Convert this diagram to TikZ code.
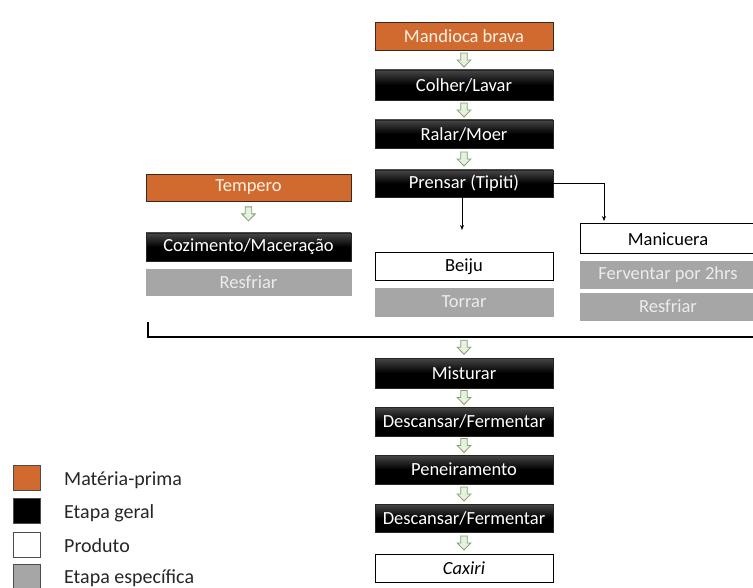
\documentclass[tikz,border=0pt]{standalone}
\usepackage{fontspec}
\setmainfont{Carlito}
\usetikzlibrary{calc,arrows.meta}
\definecolor{orangebox}{RGB}{208,106,46}
\definecolor{graybox}{RGB}{166,166,166}
\definecolor{graytext}{RGB}{236,236,236}
\definecolor{arrline}{RGB}{128,160,110}
\definecolor{arrfill}{RGB}{232,240,224}
\tikzset{
  base/.style={rectangle, minimum height=28pt, inner sep=0pt, font=\fontsize{18.5}{21}\selectfont},
  rawbox/.style={base, fill=orangebox, draw={rgb,255:red,60;green,40;blue,30}, line width=0.8pt, text=white!90!orange},
  genbox/.style={base, top color=black!72, bottom color=black, middle color=black, draw=black!85, line width=0.8pt, text=white},
  prodbox/.style={base, fill=white, draw=black, line width=1pt, text=black},
  specbox/.style={base, fill=graybox, draw=graybox, text=graytext},
  legsq/.style={rectangle, minimum width=27pt, minimum height=25pt, inner sep=0pt, draw=black!70, line width=0.6pt},
  legtxt/.style={anchor=west, inner sep=0pt, font=\fontsize{20}{23}\selectfont, text=black!85},
  thinarr/.style={line width=0.8pt, -{Stealth[length=5pt,width=4pt]}},
  garr/.pic={\draw[arrline, fill=arrfill, line width=0.8pt, line join=miter]
     (-3.2,-7) -- (3.2,-7) -- (3.2,0) -- (6.8,0) -- (0,7) -- (-6.8,0) -- (-3.2,0) -- cycle;}
}
\begin{document}
\begin{tikzpicture}[x=1pt,y=-1pt]
\useasboundingbox (0,0) rectangle (753,588);
% main column
\node[rawbox, minimum width=178pt] (mand) at (464,36) {Mandioca brava};
\node[genbox, minimum width=178pt, minimum height=30pt] (colher) at (464,85) {Colher/Lavar};
\node[genbox, minimum width=178pt] (ralar) at (464,134) {Ralar/Moer};
\node[genbox, minimum width=178pt, minimum height=27pt] (prensar) at (464,183.5) {Prensar (Tipiti)};
% left branch
\node[rawbox, minimum width=205pt, minimum height=27pt] (tempero) at (248.5,187.5) {Tempero};
\node[genbox, minimum width=205pt] (cozi) at (248.5,247) {Cozimento/Maceração};
\node[specbox, minimum width=205pt, minimum height=26pt] (resf1) at (248.5,282) {Resfriar};
% middle branch
\node[prodbox, minimum width=178pt] (beiju) at (464,267) {Beiju};
\node[specbox, minimum width=178pt] (torrar) at (464,302) {Torrar};
% right branch
\node[prodbox, minimum width=176pt, minimum height=30pt] (manic) at (668,239) {Manicuera};
\node[specbox, minimum width=176pt, minimum height=27pt] (ferv) at (668,274.5) {Ferventar por 2hrs};
\node[specbox, minimum width=176pt, minimum height=27pt] (resf2) at (668,306.5) {Resfriar};
% lower column
\node[genbox, minimum width=178pt, minimum height=30pt] (mist) at (464,373) {Misturar};
\node[genbox, minimum width=178pt, minimum height=29pt] (desc1) at (464,421.5) {Descansar/Fermentar};
\node[genbox, minimum width=178pt, minimum height=29pt] (pene) at (464,469.5) {Peneiramento};
\node[genbox, minimum width=178pt] (desc2) at (464,518) {Descansar/Fermentar};
\node[prodbox, minimum width=178pt] (caxiri) at (464,568) {\itshape Caxiri};
% green arrows
\pic at ($(mand.south)!0.5!(colher.north)$) {garr};
\pic at ($(colher.south)!0.5!(ralar.north)$) {garr};
\pic at ($(ralar.south)!0.5!(prensar.north)$) {garr};
\pic at ($(tempero.south)!0.4!(cozi.north)$) {garr};
\pic at ($(mist.south)!0.5!(desc1.north)$) {garr};
\pic at ($(desc1.south)!0.5!(pene.north)$) {garr};
\pic at ($(pene.south)!0.5!(desc2.north)$) {garr};
\pic at ($(desc2.south)!0.5!(caxiri.north)$) {garr};
% bracket line
\coordinate (brL) at (148,322);
\coordinate (brC) at (148,337);
\coordinate (brR) at (760,337);
\coordinate (brM) at (464,337);
\draw[line width=1.1pt] (brL) -- (brC) -- (brR);
\pic at ($(brM)!0.5!(mist.north)$) {garr};
% Prensar connectors
\coordinate (beijuend) at (462,230);
\coordinate (manicend) at (604,221);
\draw[thinarr] (prensar.south -| beijuend) -- (beijuend);
\draw[thinarr] (prensar.east) -| (manicend);
% legend
\node[legsq, fill=orangebox] (l1) at (26.5,477.5) {};
\node[legsq, fill=black] (l2) at (26.5,511) {};
\node[legsq, fill=white] (l3) at (26.5,544.5) {};
\node[legsq, fill=graybox] (l4) at (26.5,577) {};
\node[legtxt] (t1) at (64,480) {Matéria-prima};
\node[legtxt] (t2) at (64,513) {Etapa geral};
\node[legtxt] (t3) at (64,546) {Produto};
\node[legtxt] (t4) at (64,578) {Etapa específica};
\end{tikzpicture}
\end{document}
